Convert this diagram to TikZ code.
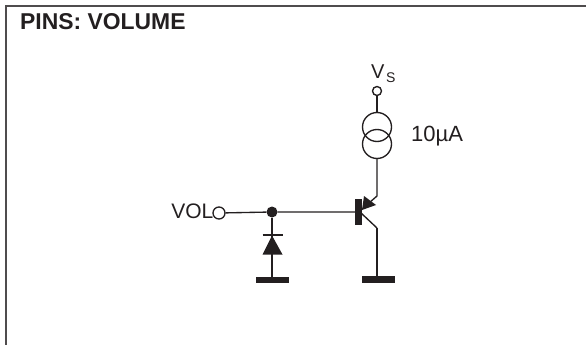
\documentclass[tikz,border=0pt]{standalone}
\usepackage{fontspec}
\setmainfont{Liberation Sans}
\usetikzlibrary{positioning}
\definecolor{inkline}{HTML}{231F20}
\tikzset{
    wire/.style={draw=inkline,line width=1.35pt},
    pin/.style={circle,draw=inkline,line width=1.35pt,fill=white,inner sep=0pt,minimum size=9pt},
    junct/.style={circle,fill=inkline,inner sep=0pt,minimum size=11pt},
    gnd/.style={rectangle,fill=inkline,inner sep=0pt,minimum width=33pt,minimum height=6.5pt},
    src/.style={circle,draw=inkline,line width=1.35pt,inner sep=0pt,minimum size=29pt},
    lbl/.style={inner sep=0pt,text=inkline,font=\fontsize{21}{24}\selectfont}
}
\begin{document}
\begin{tikzpicture}[x=1pt,y=-1pt]
    \useasboundingbox (0,0) rectangle (586,345);
    \draw[line width=2pt,draw=inkline!80] (6,345)--(6,6)--(586,6);
    \node[lbl,anchor=base west,font=\fontsize{22.9}{26}\selectfont\bfseries] (title) at (20,30) {PINS: VOLUME};
    % supply branch
    \node[pin] (vspin) at (377,91) {};
    \node[lbl,anchor=base west,font=\fontsize{20}{24}\selectfont] (vs) at (371,78) {V\kern1.5pt\raisebox{-4pt}{\fontsize{14}{16}\selectfont S}};
    \node[src] (srctop) at (377,127) {};
    \node[src] (srcbot) at (377,144) {};
    \node[lbl,anchor=base west,font=\fontsize{22}{24}\selectfont] (ival) at (411,141) {10µA};
    \draw[wire] (vspin)--(srctop);
    % transistor
    \node[rectangle,fill=inkline,inner sep=0pt,minimum width=6.5pt,minimum height=26pt] (bar) at (358.5,212) {};
    \coordinate (emit) at (377,196);
    \coordinate (coll) at (377,228);
    \coordinate (emitbar) at (361,210);
    \coordinate (collbar) at (361,213);
    \node[pin,minimum size=12pt] (volpin) at (219,213) {};
    \node[lbl,anchor=base east] (vol) at (213.5,218) {VOL};
    \node[junct] (dot) at (272,212) {};
    \draw[wire] (volpin)--(dot)--(bar);
    \draw[wire] (srcbot)--(emit)--(emitbar);
    \fill[inkline] (362,210)--(364,196)--(376,205)--cycle;
    \draw[wire] (collbar)--(coll);
    \node[gnd] (gndq) at (378,279.5) {};
    \draw[wire] (coll)--(gndq.north-|coll);
    % diode
    \coordinate (cath) at (272,235.5);
    \draw[wire] (262.5,235)--(282.5,235);
    \fill[inkline] (cath)--(262.5,254.5)--(282.5,254.5)--cycle;
    \node[gnd] (gndd) at (272.5,280) {};
    \draw[wire] (dot)--(gndd.north-|dot);
\end{tikzpicture}
\end{document}
